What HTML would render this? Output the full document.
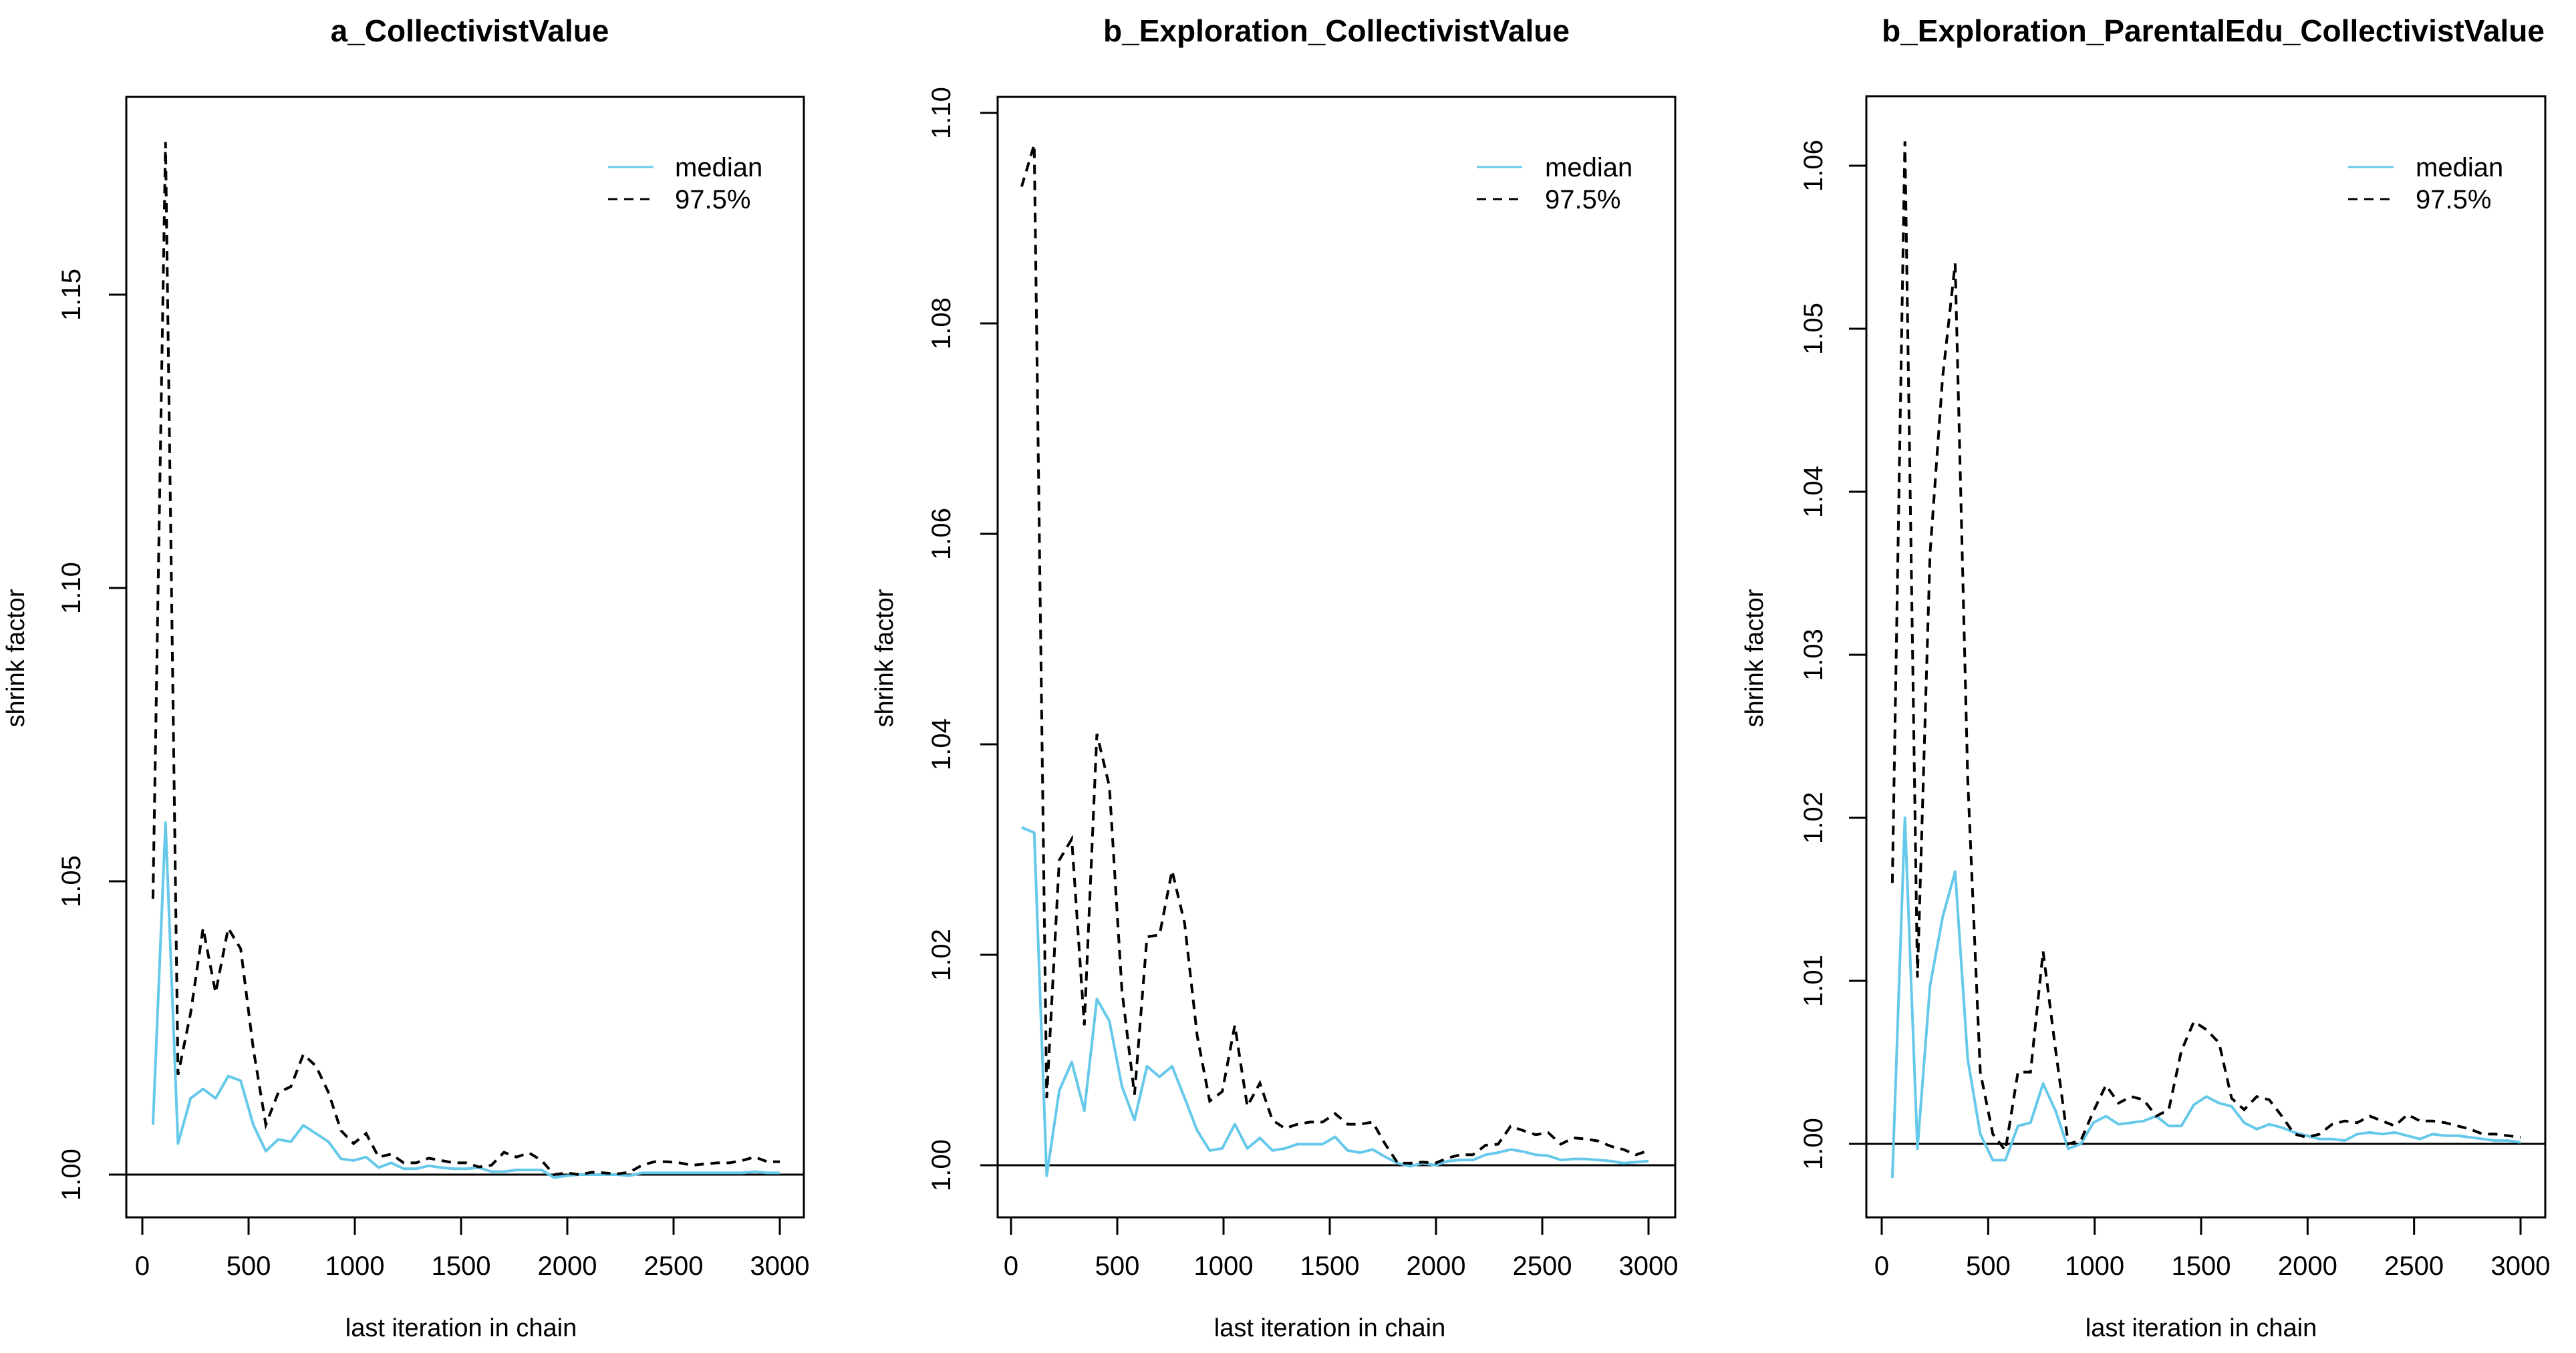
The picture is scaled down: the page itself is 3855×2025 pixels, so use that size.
<!DOCTYPE html>
<html><head><meta charset="utf-8"><style>
html,body{margin:0;padding:0;background:#fff;}
svg{display:block;font-family:"Liberation Sans",Arial,sans-serif;}
</style></head>
<body>
<svg id="chart" xmlns="http://www.w3.org/2000/svg" width="3855" height="2025" viewBox="0 0 3855 2025"></svg>
<script>
// iterations: 50 + 59*k, k=0..50
const iterations = [];
for (let k = 0; k <= 50; k++) iterations.push(50 + 59 * k);
const xTicks = [0, 500, 1000, 1500, 2000, 2500, 3000];
const titles = ["a_CollectivistValue", "b_Exploration_CollectivistValue", "b_Exploration_ParentalEdu_CollectivistValue"];
const yTicks1 = [1.00, 1.05, 1.10, 1.15];
const yTicks2 = [1.00, 1.02, 1.04, 1.06, 1.08, 1.10];
const yTicks3 = [1.00, 1.01, 1.02, 1.03, 1.04, 1.05, 1.06];
const median1 = [1.0085,1.060,1.0053,1.013,1.0146,1.013,1.0168,1.016,1.0085,1.004,1.006,1.0056,1.0084,1.007,1.0056,1.0027,1.0024,1.003,1.0012,1.002,1.001,1.001,1.0015,1.0012,1.001,1.001,1.0012,1.0005,1.0005,1.0008,1.0008,1.0008,0.9995,0.9998,1.0,1.0,1.0,1.0,0.9998,1.0003,1.0003,1.0003,1.0003,1.0003,1.0003,1.0003,1.0003,1.0003,1.0005,1.0003,1.0003];
const upper1 = [1.047,1.176,1.017,1.0275,1.042,1.031,1.042,1.0385,1.0215,1.0085,1.014,1.015,1.0205,1.0185,1.014,1.0075,1.0053,1.007,1.003,1.0035,1.002,1.002,1.0028,1.0024,1.002,1.002,1.0013,1.0016,1.0038,1.003,1.0037,1.0024,1.0,1.0003,1.0,1.0004,1.0003,1.0001,1.0004,1.0016,1.0022,1.0022,1.002,1.0016,1.0018,1.002,1.002,1.0024,1.003,1.0022,1.0022];
const median2 = [1.0321,1.0316,0.999,1.0071,1.0098,1.0052,1.0158,1.0137,1.0075,1.0043,1.0094,1.0084,1.0094,1.0064,1.0033,1.0014,1.0016,1.0039,1.0016,1.0026,1.0014,1.0016,1.002,1.002,1.002,1.0027,1.0014,1.0012,1.0015,1.0008,1.0002,0.9999,1.0002,1.0,1.0004,1.0005,1.0005,1.001,1.0012,1.0015,1.0013,1.001,1.0009,1.0005,1.0006,1.0006,1.0005,1.0004,1.0002,1.0003,1.0004];
const upper2 = [1.093,1.097,1.0064,1.029,1.031,1.0133,1.041,1.036,1.0166,1.0067,1.0217,1.0219,1.028,1.023,1.0123,1.0061,1.007,1.0133,1.0056,1.0078,1.0043,1.0035,1.0039,1.0041,1.0041,1.0049,1.0039,1.0039,1.0041,1.002,1.0002,1.0002,1.0003,1.0002,1.0007,1.001,1.001,1.0019,1.002,1.0037,1.0033,1.0029,1.0031,1.002,1.0026,1.0025,1.0023,1.0018,1.0015,1.001,1.0014];
const median3 = [0.9979,1.020,0.9997,1.0097,1.0139,1.0167,1.0052,1.0006,0.999,0.999,1.0011,1.0013,1.0037,1.002,0.9997,1.0,1.0013,1.0017,1.0012,1.0013,1.0014,1.0017,1.0011,1.0011,1.0024,1.0029,1.0025,1.0023,1.0013,1.0009,1.0012,1.001,1.0007,1.0005,1.0003,1.0003,1.0002,1.0006,1.0007,1.0006,1.0007,1.0005,1.0003,1.0006,1.0005,1.0005,1.0004,1.0003,1.0002,1.0002,1.0001];
const upper3 = [1.016,1.0615,1.0102,1.0362,1.047,1.054,1.0224,1.0044,1.0006,0.9996,1.0044,1.0044,1.0118,1.0057,1.0,1.0002,1.002,1.0036,1.0025,1.0029,1.0027,1.0017,1.0021,1.0057,1.0075,1.007,1.0062,1.0028,1.0021,1.0029,1.0027,1.0017,1.0006,1.0004,1.0006,1.0012,1.0014,1.0013,1.0017,1.0014,1.0011,1.0018,1.0014,1.0014,1.0013,1.0011,1.0009,1.0006,1.0006,1.0005,1.0004];

const NS = "http://www.w3.org/2000/svg";
const svg = document.getElementById("chart");
function mk(tag, attrs, parent) {
  const e = document.createElementNS(NS, tag);
  for (const k in attrs) e.setAttribute(k, attrs[k]);
  (parent || svg).appendChild(e);
  return e;
}
const panels = [
  {title: titles[0], yTicks: yTicks1, med: median1, up: upper1, box: [189, 1203, 145, 1822], x0: 213, x3000: 1167, yA: [1.00, 1758], yB: [1.15, 441], titleX: 703, yLabX: 36, yTickX: 120, legLine: [910, 978], legText: 1010},
  {title: titles[1], yTicks: yTicks2, med: median2, up: upper2, box: [1493, 2507, 145, 1822], x0: 1513, x3000: 2467, yA: [1.00, 1744], yB: [1.10, 169], titleX: 2000, yLabX: 1336, yTickX: 1422, legLine: [2210, 2278], legText: 2312},
  {title: titles[2], yTicks: yTicks3, med: median3, up: upper3, box: [2793, 3809, 144, 1822], x0: 2816, x3000: 3772, yA: [1.00, 1712], yB: [1.06, 248], titleX: 3312, yLabX: 2638, yTickX: 2727, legLine: [3514, 3582], legText: 3615}
];

panels.forEach((p, i) => {
  const g = mk("g", {});
  
  
  const xs = v => p.x0 + (v / 3000) * (p.x3000 - p.x0);
  const ys = v => p.yA[1] + (v - p.yA[0]) / (p.yB[0] - p.yA[0]) * (p.yB[1] - p.yA[1]);
  const [L, R, T, B] = p.box;

  const t = mk("text", {x: p.titleX, y: 62, "text-anchor": "middle", "font-size": 46, "font-weight": "bold", fill: "#000"}, g);
  t.textContent = p.title;
  
  

  const box = mk("rect", {x: L, y: T, width: R - L, height: B - T, fill: "none", stroke: "#000", "stroke-width": 3}, g);
  
  

  const xa = mk("g", {}, g);
  
  
  mk("line", {x1: xs(xTicks[0]), x2: xs(xTicks[xTicks.length - 1]), y1: B, y2: B, stroke: "#000", "stroke-width": 3}, xa);
  xTicks.forEach(v => {
    mk("line", {x1: xs(v), x2: xs(v), y1: B, y2: B + 26, stroke: "#000", "stroke-width": 3}, xa);
    const tl = mk("text", {x: xs(v), y: 1908, "text-anchor": "middle", "font-size": 40, fill: "#000"}, xa);
    tl.textContent = v;
    
    
  });
  const xt = mk("text", {x: (xs(0) + xs(3000)) / 2, y: 2000, "text-anchor": "middle", "font-size": 38, fill: "#000"}, g);
  xt.textContent = "last iteration in chain";
  
  

  const ya = mk("g", {}, g);
  
  
  const yt0 = p.yTicks[0], yt1 = p.yTicks[p.yTicks.length - 1];
  mk("line", {x1: L, x2: L, y1: ys(yt0), y2: ys(yt1), stroke: "#000", "stroke-width": 3}, ya);
  p.yTicks.forEach(v => {
    mk("line", {x1: L, x2: L - 26, y1: ys(v), y2: ys(v), stroke: "#000", "stroke-width": 3}, ya);
    const tl = mk("text", {x: p.yTickX, y: ys(v), "text-anchor": "middle", "font-size": 40, fill: "#000", transform: `rotate(-90 ${p.yTickX} ${ys(v)})`}, ya);
    tl.textContent = v.toFixed(2);
    
    
  });
  const yl = mk("text", {x: p.yLabX, y: 985, "text-anchor": "middle", "font-size": 38, fill: "#000", transform: `rotate(-90 ${p.yLabX} 985)`}, g);
  yl.textContent = "shrink factor";
  
  

  const ref = mk("line", {x1: L, x2: R, y1: ys(1), y2: ys(1), stroke: "#000", "stroke-width": 3}, g);
  
  

  const medPts = iterations.map((it, k) => xs(it).toFixed(1) + "," + ys(p.med[k]).toFixed(1)).join(" ");
  const upPts = iterations.map((it, k) => xs(it).toFixed(1) + "," + ys(p.up[k]).toFixed(1)).join(" ");
  const ml = mk("polyline", {points: medPts, fill: "none", stroke: "#66c9ea", "stroke-width": 4, "stroke-linejoin": "round"}, g);
  
  
  const ul = mk("polyline", {points: upPts, fill: "none", stroke: "#000", "stroke-width": 4, "stroke-dasharray": "14 10"}, g);
  
  

  const lg = mk("g", {}, g);
  
  
  mk("line", {x1: p.legLine[0], x2: p.legLine[1], y1: 250, y2: 250, stroke: "#66c9ea", "stroke-width": 3}, lg);
  mk("line", {x1: p.legLine[0], x2: p.legLine[1], y1: 298, y2: 298, stroke: "#000", "stroke-width": 3, "stroke-dasharray": "14 10"}, lg);
  const l1 = mk("text", {x: p.legText, y: 264, "font-size": 40, fill: "#000"}, lg);
  l1.textContent = "median";
  
  
  const l2 = mk("text", {x: p.legText, y: 312, "font-size": 40, fill: "#000"}, lg);
  l2.textContent = "97.5%";
  
  
});
</script>
</body></html>
